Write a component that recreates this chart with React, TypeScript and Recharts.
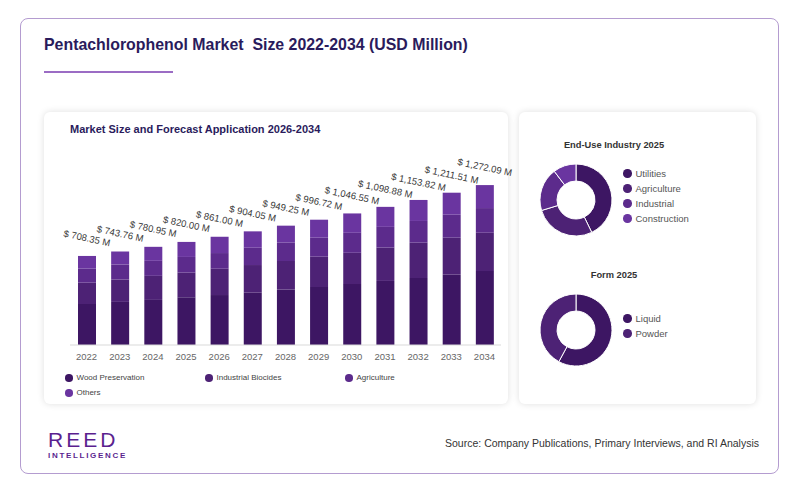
import { Bar, BarChart, Cell, LabelList, Pie, PieChart, XAxis, YAxis } from 'recharts'

const years = ['2022', '2023', '2024', '2025', '2026', '2027', '2028', '2029', '2030', '2031', '2032', '2033', '2034']
const totals = [708.35, 743.76, 780.95, 820.0, 861.0, 904.05, 949.25, 996.72, 1046.55, 1098.88, 1153.82, 1211.51, 1272.09]
const woodPreservation = [326.3, 342.8, 358.6, 379.7, 397.5, 415.9, 440.0, 461.4, 484.7, 509.6, 533.1, 559.2, 588.3]
const industrialBiocides = [169.5, 177.8, 191.3, 195.8, 209.1, 220.2, 228.4, 241.0, 248.7, 265.2, 280.9, 294.3, 304.5]
const agriculture = [111.4, 119.6, 119.5, 125.0, 124.8, 137.6, 145.6, 151.1, 158.9, 164.8, 172.7, 183.0, 196.4]
const others = [101.15, 103.56, 111.55, 119.5, 129.6, 130.35, 135.25, 143.22, 154.25, 159.28, 167.12, 175.01, 182.89]

const endUseNames = ['Utilities', 'Agriculture', 'Industrial', 'Construction']
const endUseShares = [42.8, 27.5, 19.4, 10.3]
const formNames = ['Liquid', 'Powder']
const formShares = [57.9, 42.1]

const C1 = '#3d1663'
const C2 = '#4d2275'
const C3 = '#5c2b8c'
const C4 = '#6a35a0'

const series = [
  { key: 'wood', name: 'Wood Preservation', color: C1 },
  { key: 'industrial', name: 'Industrial Biocides', color: C2 },
  { key: 'agriculture', name: 'Agriculture', color: C3 },
  { key: 'others', name: 'Others', color: C4 },
]

const barData = years.map((year, i) => ({
  year,
  total: totals[i],
  wood: woodPreservation[i],
  industrial: industrialBiocides[i],
  agriculture: agriculture[i],
  others: others[i],
}))

const endUseData = endUseNames.map((name, i) => ({ name, value: endUseShares[i] }))
const formData = formNames.map((name, i) => ({ name, value: formShares[i] }))
const endUseColors = [C1, C2, C3, C4]
const formColors = [C1, C2]

const font = '"Liberation Sans", Arial, sans-serif'
const navy = '#2a1b5c'

const fmt = (v: number) =>
  '$ ' + v.toLocaleString('en-US', { minimumFractionDigits: 2, maximumFractionDigits: 2 }) + ' M'

function TotalLabel(props: any) {
  const { x, y, width, value } = props
  const cx = Number(x) + Number(width) / 2
  const cy = Number(y) - 18
  return (
    <text
      x={cx}
      y={cy}
      transform={`rotate(12, ${cx}, ${cy})`}
      textAnchor="middle"
      dominantBaseline="central"
      fontSize={9.5}
      fill="#3a3a3a"
    >
      {fmt(Number(value))}
    </text>
  )
}

function Dot({ color, size }: { color: string; size: number }) {
  return (
    <span
      style={{
        display: 'inline-block',
        width: size,
        height: size,
        borderRadius: '50%',
        background: color,
        marginRight: 4,
        verticalAlign: 'middle',
      }}
    />
  )
}

function Donut({ data, colors, cx, cy }: { data: { name: string; value: number }[]; colors: string[]; cx: number; cy: number }) {
  return (
    <div style={{ position: 'absolute', left: cx - 45, top: cy - 45 }}>
      <PieChart width={90} height={90} margin={{ top: 0, right: 0, bottom: 0, left: 0 }}>
        <Pie
          data={data}
          dataKey="value"
          nameKey="name"
          cx={45}
          cy={45}
          innerRadius={19}
          outerRadius={36}
          startAngle={90}
          endAngle={-270}
          stroke="#ffffff"
          strokeWidth={1}
          isAnimationActive={false}
        >
          {data.map((d, i) => (
            <Cell key={d.name} fill={colors[i]} />
          ))}
        </Pie>
      </PieChart>
    </div>
  )
}

function DonutLegend({ names, colors, top }: { names: string[]; colors: string[]; top: number }) {
  return (
    <div style={{ position: 'absolute', left: 623, top }}>
      {names.map((n, i) => (
        <div key={n} style={{ height: 15, lineHeight: '15px', fontSize: 9.5, color: '#555', whiteSpace: 'nowrap' }}>
          <Dot color={colors[i]} size={8.5} />
          <span style={{ verticalAlign: 'middle' }}>{n}</span>
        </div>
      ))}
    </div>
  )
}

export default function App() {
  return (
    <div style={{ position: 'absolute', left: 0, top: 0, width: 800, height: 493, background: '#fff', fontFamily: font }}>
      <div
        style={{
          position: 'absolute',
          left: 20,
          top: 18,
          width: 759,
          height: 456,
          border: '1px solid #b49cd0',
          borderRadius: 8,
          boxSizing: 'border-box',
        }}
      />
      <div style={{ position: 'absolute', left: 44, top: 36, fontSize: 15.9, fontWeight: 700, color: navy, whiteSpace: 'pre' }}>
        {'Pentachlorophenol Market  Size 2022-2034 (USD Million)'}
      </div>
      <div style={{ position: 'absolute', left: 44, top: 71, width: 129, height: 1.5, background: '#9b6cc4' }} />

      {/* left panel */}
      <div
        style={{
          position: 'absolute',
          left: 44,
          top: 112,
          width: 464,
          height: 292,
          background: '#fff',
          borderRadius: 6,
          boxShadow: '0 0 7px rgba(0,0,0,0.13)',
        }}
      />
      <div style={{ position: 'absolute', left: 70, top: 123, fontSize: 11, fontWeight: 700, color: navy }}>
        Market Size and Forecast Application 2026-2034
      </div>
      <div style={{ position: 'absolute', left: 44, top: 112 }}>
        <BarChart width={484} height={258} data={barData} margin={{ top: 57, right: 27, left: 26, bottom: 0 }} barSize={18}>
          <XAxis
            dataKey="year"
            interval={0}
            tickLine={false}
            axisLine={{ stroke: '#d9d9d9' }}
            tick={{ fontSize: 9.5, fill: '#666' }}
            height={25}
          />
          <YAxis hide domain={[0, 1400]} />
          {series.map((s, i) => (
            <Bar key={s.key} dataKey={s.key} name={s.name} stackId="a" fill={s.color} isAnimationActive={false}>
              {i === series.length - 1 && <LabelList dataKey="total" content={TotalLabel} />}
            </Bar>
          ))}
        </BarChart>
      </div>
      <div style={{ position: 'absolute', left: 65, top: 370, width: 440, display: 'flex', flexWrap: 'wrap' }}>
        {series.map((s) => (
          <div key={s.key} style={{ width: 140, height: 15, lineHeight: '15px', fontSize: 8, color: '#444', whiteSpace: 'nowrap' }}>
            <Dot color={s.color} size={7.5} />
            <span style={{ verticalAlign: 'middle' }}>{s.name}</span>
          </div>
        ))}
      </div>

      {/* right panel */}
      <div
        style={{
          position: 'absolute',
          left: 519,
          top: 112,
          width: 237,
          height: 292,
          background: '#fff',
          borderRadius: 6,
          boxShadow: '0 0 7px rgba(0,0,0,0.13)',
        }}
      />
      <div style={{ position: 'absolute', left: 519, width: 190, top: 140, textAlign: 'center', fontSize: 9.3, fontWeight: 700, color: '#333' }}>
        End-Use Industry 2025
      </div>
      <Donut data={endUseData} colors={endUseColors} cx={576} cy={200} />
      <DonutLegend names={endUseNames} colors={endUseColors} top={165} />

      <div style={{ position: 'absolute', left: 519, width: 190, top: 270, textAlign: 'center', fontSize: 9.3, fontWeight: 700, color: '#333' }}>
        Form 2025
      </div>
      <Donut data={formData} colors={formColors} cx={576} cy={330} />
      <DonutLegend names={formNames} colors={formColors} top={310} />

      {/* footer */}
      <div style={{ position: 'absolute', left: 48, top: 429, fontSize: 21, fontWeight: 500, letterSpacing: 3, color: '#5b1f8f', lineHeight: '21px' }}>
        REED
      </div>
      <div style={{ position: 'absolute', left: 48, top: 452, fontSize: 8, fontWeight: 700, letterSpacing: 1.7, color: '#5b1f8f', lineHeight: '8px' }}>
        INTELLIGENCE
      </div>
      <div style={{ position: 'absolute', right: 41, top: 437, fontSize: 10.5, color: '#333', whiteSpace: 'nowrap' }}>
        Source: Company Publications, Primary Interviews, and RI Analysis
      </div>
    </div>
  )
}
